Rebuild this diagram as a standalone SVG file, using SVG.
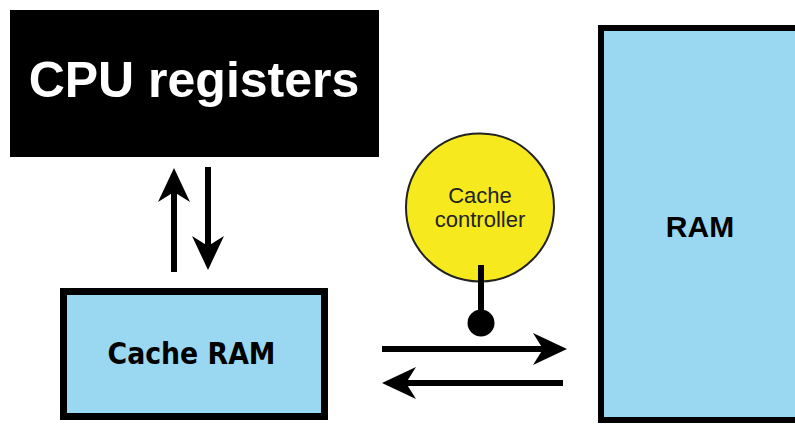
<svg xmlns="http://www.w3.org/2000/svg" width="795" height="426" viewBox="0 0 795 426">
  <style>
    .blue { fill: #9ad8f2; stroke: #000; }
    .lbl { font-family: "Liberation Sans", Arial, sans-serif; font-weight: bold; text-anchor: middle; }
    .conn { stroke: #000; stroke-width: 6; fill: none; }
  </style>
  <defs>
    <marker id="ah" markerUnits="userSpaceOnUse" markerWidth="50" markerHeight="50" viewBox="-20 -25 50 50" refX="0" refY="0" orient="auto" overflow="visible">
      <path d="M24,0 L-10,-16 L0,0 L-10,16 Z" fill="#000"/>
    </marker>
  </defs>
  <rect width="795" height="426" fill="#fff"/>

  <g id="cpu-registers">
    <rect x="10" y="10" width="369" height="147" fill="#000"/>
    <text class="lbl" x="194" y="97" font-size="50" fill="#fff">CPU registers</text>
  </g>

  <g id="cache-ram">
    <rect class="blue" x="63.5" y="291.5" width="261" height="125" stroke-width="7"/>
    <text x="191.5" y="364" font-family="'DejaVu Sans', sans-serif" font-weight="bold" font-size="30" text-anchor="middle" textLength="168" lengthAdjust="spacingAndGlyphs" fill="#000">Cache RAM</text>
  </g>

  <g id="ram">
    <rect class="blue" x="601" y="28" width="210" height="392" stroke-width="6"/>
    <text class="lbl" x="700" y="237" font-size="30" fill="#000">RAM</text>
  </g>

  <g id="cache-controller">
    <circle cx="480" cy="207.5" r="74" fill="#f6ea1e" stroke="#222" stroke-width="2"/>
    <text x="480" y="203" font-family="'Liberation Sans', Arial, sans-serif" font-size="22" text-anchor="middle" fill="#222">Cache</text>
    <text x="480" y="227" font-family="'Liberation Sans', Arial, sans-serif" font-size="22" text-anchor="middle" fill="#222">controller</text>
  </g>

  <g id="connectors">
    <line class="conn" x1="174" y1="272" x2="174" y2="192" marker-end="url(#ah)"/>
    <line class="conn" x1="208" y1="167" x2="208" y2="246" marker-end="url(#ah)"/>
    <line class="conn" x1="382" y1="349" x2="543" y2="349" marker-end="url(#ah)"/>
    <line class="conn" x1="563" y1="383" x2="406" y2="383" marker-end="url(#ah)"/>
    <line class="conn" x1="481" y1="265" x2="481" y2="318"/>
    <circle cx="481" cy="323" r="13.5" fill="#000"/>
  </g>
</svg>
